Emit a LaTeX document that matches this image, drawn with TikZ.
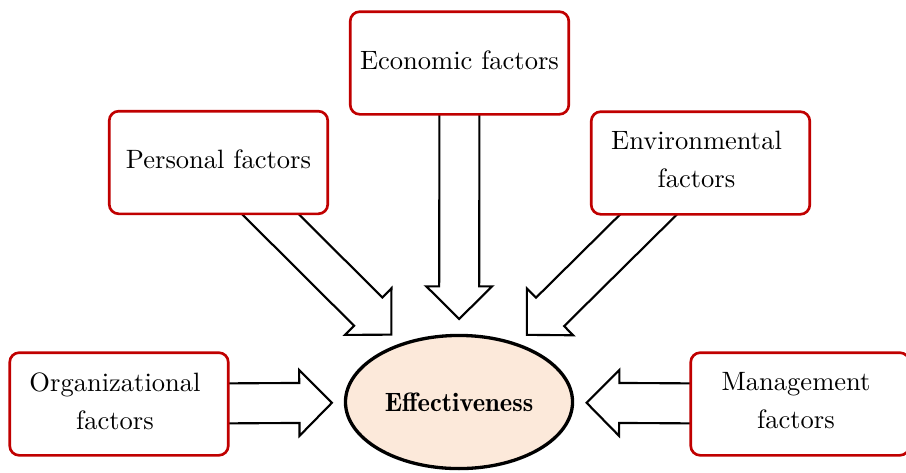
\documentclass[tikz,border=0pt]{standalone}
\usetikzlibrary{calc,shapes.geometric,backgrounds}
\definecolor{boxred}{RGB}{192,0,0}
\definecolor{peach}{RGB}{252,233,218}
\def\sw{7.54pt}
\def\hw{12.4pt}
\def\hl{12.3pt}
\newcommand{\fatarrow}[4]{% #1 name, #2 source node, #3 target node, #4 tip distance from target centre
  \coordinate (#1-tip) at ($(#3.center)!#4!(#2.center)$);
  \coordinate (#1-hb) at ($(#1-tip)!\hl!(#2.center)$);
  \draw[fatline] ($(#2.center)!\sw!-90:(#1-tip)$) -- ($(#1-hb)!\sw!90:(#2.center)$)
    -- ($(#1-hb)!\hw!90:(#2.center)$) -- (#1-tip) -- ($(#1-hb)!\hw!-90:(#2.center)$)
    -- ($(#1-hb)!\sw!-90:(#2.center)$) -- ($(#2.center)!\sw!90:(#1-tip)$);
}
\tikzset{
  factor/.style={draw=boxred, line width=1pt, rounded corners=3.6pt, fill=white,
    minimum width=82.4pt, minimum height=38.7pt, inner sep=0pt},
  factortext/.style={align=center, inner sep=0pt, yshift=1.2pt,
    font=\fontsize{10}{14.3}\selectfont},
  core/.style={ellipse, draw=black, line width=1.25pt, fill=peach,
    minimum width=85.6pt, minimum height=50.2pt, inner sep=0pt, font=\fontseries{b}\selectfont},
  fatline/.style={draw=black, line width=0.8pt, line join=miter, fill=white}
}
\begin{document}
\begin{tikzpicture}[x=0.377pt, y=-0.377pt]
\useasboundingbox (0,0) rectangle (906,472);
\node[factor, label={[factortext]center:Economic factors}] (eco) at (459.5,63) {};
\node[factor, label={[factortext]center:Personal factors}] (per) at (218.5,162.5) {};
\node[factor, label={[factortext]center:{Environmental\hspace*{3pt}\\factors\hspace*{3pt}}}] (env) at (700.5,163) {};
\node[factor, label={[factortext]center:{Organizational\hspace*{3pt}\\factors\hspace*{3pt}}}] (org) at (119,404) {};
\node[factor, label={[factortext]center:{Management\hspace*{3pt}\\factors\hspace*{3pt}}}] (man) at (800,404) {};
\node[core] (eff) at (459,402) {Effectiveness};
\begin{pgfonlayer}{background}
  \fatarrow{a1}{eco}{eff}{31.3pt}
  \fatarrow{a2}{per}{eff}{36pt}
  \fatarrow{a3}{env}{eff}{36pt}
  \fatarrow{a4}{org}{eff}{47.9pt}
  \fatarrow{a5}{man}{eff}{48.1pt}
\end{pgfonlayer}
\end{tikzpicture}
\end{document}
